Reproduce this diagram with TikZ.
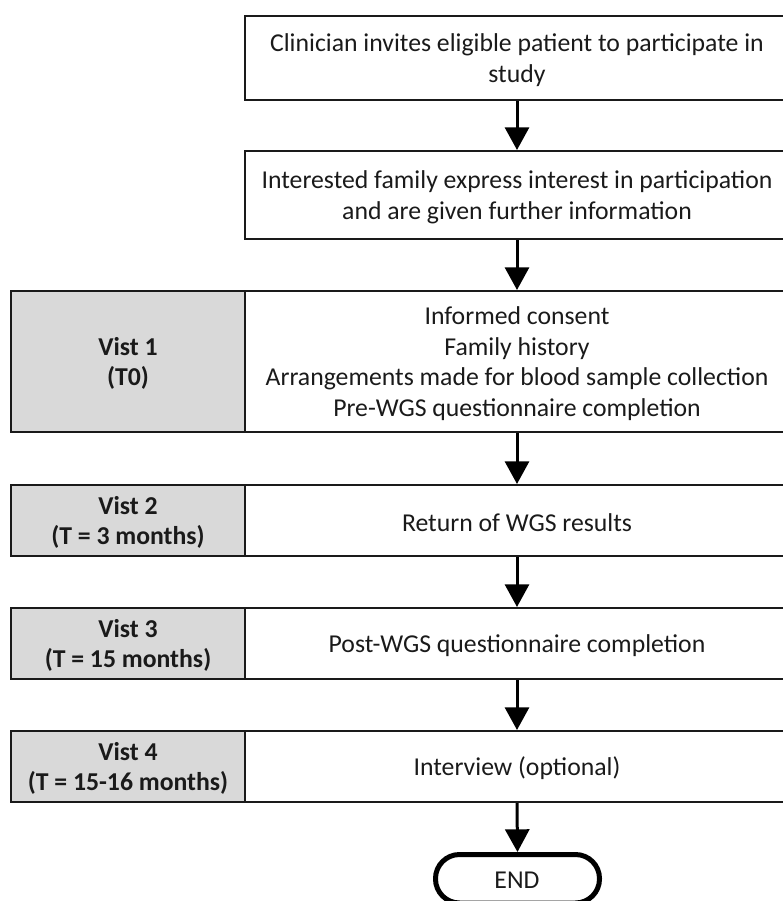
\documentclass[tikz,border=0pt]{standalone}
\usepackage{fontspec}
\setmainfont{Carlito}
\usetikzlibrary{fit,arrows.meta}
\definecolor{boxgray}{HTML}{D9D9D9}
\definecolor{linegray}{HTML}{1A1A1A}
\begin{document}
\begin{tikzpicture}[x=0.75pt,y=-0.75pt,
  box/.style={draw=linegray,line width=1.5pt,inner sep=0pt},
  visit/.style={box,fill=boxgray},
  txt/.style={align=center,inner sep=0pt,text=linegray,yshift=-1.5pt,
    font=\fontsize{19.3}{23}\selectfont},
  vtxt/.style={txt,font=\bfseries\fontsize{19.3}{22.6}\selectfont},
  endbox/.style={draw=black,line width=3.75pt,rounded corners=18pt,inner sep=0pt},
  flow/.style={line width=2.25pt,draw=black,-{Triangle[width=18pt,length=17pt]}}]
\useasboundingbox (0,0) rectangle (783,901);
\clip (0,0) rectangle (783,901);

\node[box,fit={(245,16) (789,100)}] (b1) {};
\node[txt] (b1t) at (b1.center)
  {Clinician invites eligible patient to participate in\\study};
\node[box,fit={(245,151) (789,239)}] (b2) {};
\node[txt] (b2t) at (b2.center)
  {Interested family express interest in participation\\and are given further information};

\node[visit,fit={(11,291) (245,432)}] (v1) {};
\node[vtxt] (v1t) at (v1.center) {Vist 1\\(T0)};
\node[box,fit={(245,291) (789,432)}] (r1) {};
\node[txt] (r1t) at (r1.center)
  {Informed consent\\Family history\\Arrangements made for blood sample collection\\Pre-WGS questionnaire completion};

\node[visit,fit={(11,485) (245,556)}] (v2) {};
\node[vtxt] (v2t) at (v2.center) {Vist 2\\(T = 3 months)};
\node[box,fit={(245,485) (789,556)}] (r2) {};
\node[txt] (r2t) at (r2.center) {Return of WGS results};

\node[visit,fit={(11,608) (245,679)}] (v3) {};
\node[vtxt] (v3t) at (v3.center) {Vist 3\\(T = 15 months)};
\node[box,fit={(245,608) (789,679)}] (r3) {};
\node[txt] (r3t) at (r3.center) {Post-WGS questionnaire completion};

\node[visit,fit={(11,731) (245,802)}] (v4) {};
\node[vtxt] (v4t) at (v4.center) {Vist 4\\(T = 15-16 months)};
\node[box,fit={(245,731) (789,802)}] (r4) {};
\node[txt] (r4t) at (r4.center) {Interview (optional)};

\node[endbox,fit={(435.5,854.5) (599.5,903)}] (end) {};
\node[txt] (endt) at (517,878) {END};

\draw[flow] (b1.south) -- (b2.north);
\draw[flow] (b2.south) -- (r1.north);
\draw[flow] (r1.south) -- (r2.north);
\draw[flow] (r2.south) -- (r3.north);
\draw[flow] (r3.south) -- (r4.north);
\draw[flow] (r4.south) -- (end.north);
\end{tikzpicture}
\end{document}
